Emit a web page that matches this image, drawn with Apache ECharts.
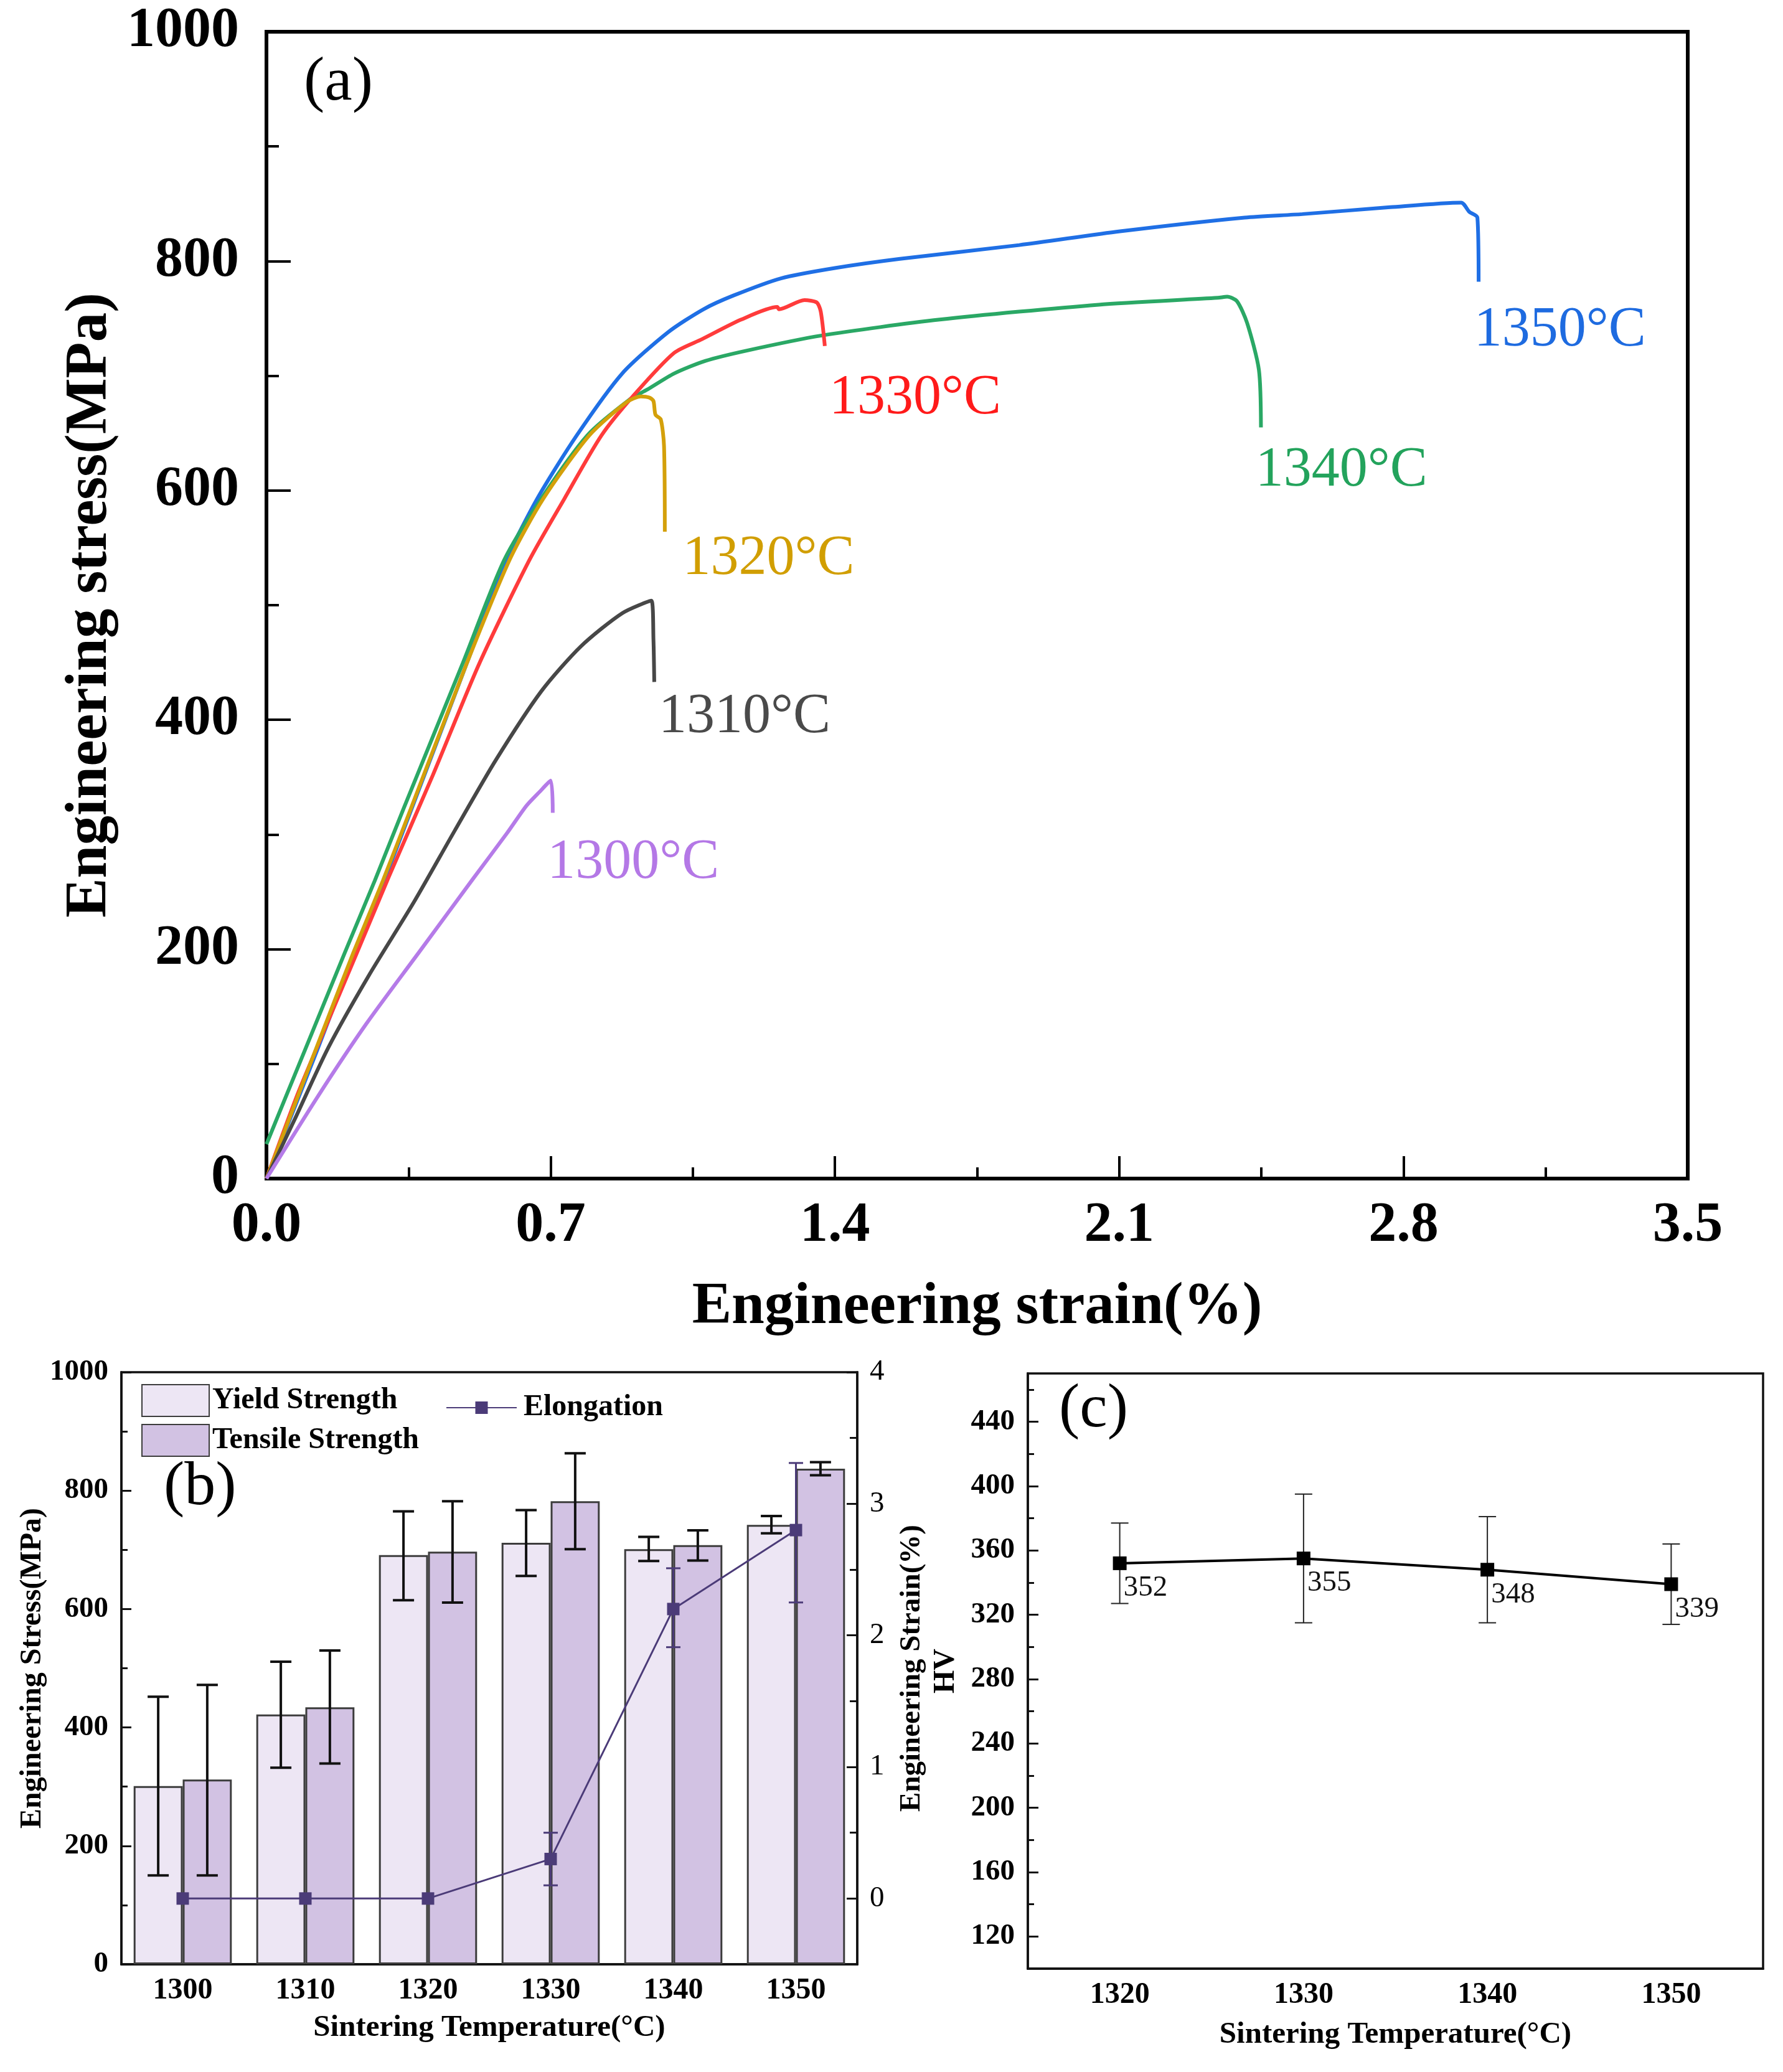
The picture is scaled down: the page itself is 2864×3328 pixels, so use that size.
<!DOCTYPE html>
<html>
<head>
<meta charset="utf-8">
<script src="https://cdn.jsdelivr.net/npm/echarts@6/dist/echarts.min.js"></script>
<style>
  html, body { margin: 0; padding: 0; background: #fff; }
  #chart { width: 2864px; height: 3328px; }
</style>
</head>
<body>
<div id="chart"></div>
<script>
// ---- (a) engineering stress-strain curves: [strain %, stress MPa] ----
const curve1350 = [[0,0],[0.125,112],[0.217,197],[0.290,260],[0.357,322],[0.493,449],[0.590,539],[0.667,593],[0.764,648],[0.876,702],[0.989,738],[1.076,758],[1.150,770],[1.267,785],[1.400,794],[1.560,802],[1.854,814],[2.102,826],[2.409,838],[2.551,841],[2.767,847],[2.942,851],[2.962,843],[2.982,838],[2.985,782]];
const curve1340 = [[0,30],[0.097,114],[0.193,197],[0.267,260],[0.337,322],[0.483,449],[0.585,539],[0.677,593],[0.790,648],[0.897,680],[0.938,688],[1.004,702],[1.081,713],[1.183,722],[1.365,735],[1.658,749],[2.049,762],[2.343,768],[2.366,769],[2.390,765],[2.415,746],[2.444,705],[2.449,655]];
const curve1330 = [[0,0],[0.076,73],[0.149,135],[0.223,197],[0.300,262],[0.410,352],[0.524,449],[0.647,539],[0.734,593],[0.825,648],[0.907,684],[1.004,720],[1.073,732],[1.169,749],[1.258,760],[1.262,758],[1.325,766],[1.355,764],[1.365,756],[1.375,726]];
const curve1320 = [[0,0],[0.123,114],[0.214,197],[0.287,260],[0.355,322],[0.493,449],[0.598,539],[0.682,593],[0.795,648],[0.887,677],[0.922,682],[0.943,681],[0.953,678],[0.958,666],[0.971,662],[0.979,639],[0.981,564]];
const curve1310 = [[0,0],[0.070,52],[0.152,114],[0.252,177],[0.363,241],[0.463,303],[0.565,365],[0.677,425],[0.774,464],[0.876,493],[0.948,504],[0.953,470],[0.955,433]];
const curve1300 = [[0,0],[0.129,73],[0.246,135],[0.375,197],[0.510,262],[0.592,301],[0.640,325],[0.672,337],[0.700,347],[0.705,319]];
const curveNames = ['1350°C', '1340°C', '1330°C', '1320°C', '1310°C', '1300°C'];
// where each curve's text label sits (left edge, vertical middle), in data units
const labelAnchors = [[2.973,739],[2.435,617],[1.385,680],[1.024,540],[0.965,402],[0.691,275]];

// ---- (b) strength and elongation vs sintering temperature ----
const temps = ['1300', '1310', '1320', '1330', '1340', '1350'];
const yieldStrength = [301, 422, 691, 712, 701, 742];
const yieldErr = [[150,452],[332,511],[615,765],[656,767],[681,722],[728,757]];
const tensileStrength = [312, 434, 697, 782, 708, 837];
const tensileErr = [[150,472],[339,530],[611,782],[701,863],[682,733],[826,848]];
const elongation = [0, 0, 0, 0.30, 2.20, 2.80];
const elongationErr = [null, null, null, [0.10,0.50],[1.91,2.51],[2.25,3.31]];

// ---- (c) hardness ----
const hvTemps = ['1320', '1330', '1340', '1350'];
const hardness = [352, 355, 348, 339];
const hardnessErr = [[327,377],[315,395],[315,381],[314,364]];

const SERIF = 'Liberation Serif';
const curveColors = ['#1f6fe5', '#2aa865', '#ff3b3b', '#d4a00a', '#474747', '#b57be8'];
const labelColors = ['#1e6be0', '#23a35c', '#ff1a1a', '#d19e00', '#4a4a4a', '#b478e6'];
const curves = [curve1350, curve1340, curve1330, curve1320, curve1310, curve1300];

function errRows(err) {
  const rows = [];
  err.forEach((e, i) => { if (e) rows.push([i, e[0], e[1]]); });
  return rows;
}

// error bars drawn at a fraction of the category band away from its centre
function errorBars(xi, yi, rows, shift, cap, color, width) {
  return {
    type: 'custom',
    xAxisIndex: xi,
    yAxisIndex: yi,
    z: 6,
    silent: true,
    data: rows,
    encode: { x: 0, y: [1, 2] },
    renderItem: function (params, api) {
      const band = api.size([1, 0])[0];
      const lo = api.coord([api.value(0), api.value(1)]);
      const hi = api.coord([api.value(0), api.value(2)]);
      const x = lo[0] + shift * band;
      const st = { stroke: color, lineWidth: width };
      return {
        type: 'group',
        children: [
          { type: 'line', shape: { x1: x, y1: lo[1], x2: x, y2: hi[1] }, style: st },
          { type: 'line', shape: { x1: x - cap / 2, y1: lo[1], x2: x + cap / 2, y2: lo[1] }, style: st },
          { type: 'line', shape: { x1: x - cap / 2, y1: hi[1], x2: x + cap / 2, y2: hi[1] }, style: st }
        ]
      };
    }
  };
}

const plainNum = v => String(v);

const curveSeries = curves.map((c, i) => ({
  name: curveNames[i],
  type: 'line',
  xAxisIndex: 0,
  yAxisIndex: 0,
  data: c,
  symbol: 'none',
  smooth: 0.25,
  lineStyle: { color: curveColors[i], width: 6 },
  itemStyle: { color: curveColors[i] },
  z: 3,
  markPoint: {
    silent: true,
    symbol: 'rect',
    symbolSize: 1,
    itemStyle: { color: 'rgba(0,0,0,0)' },
    label: {
      show: true, position: 'right', distance: 0,
      formatter: curveNames[i], color: labelColors[i],
      fontFamily: SERIF, fontSize: 90
    },
    data: [{ coord: labelAnchors[i] }]
  }
}));

const chart = echarts.init(document.getElementById('chart'), null, { renderer: 'canvas' });

chart.setOption({
  animation: false,
  backgroundColor: '#fff',
  textStyle: { fontFamily: SERIF, color: '#000' },
  grid: [
    { left: 428, top: 51, width: 2283, height: 1842, show: true, borderColor: '#000', borderWidth: 6, backgroundColor: 'transparent' },
    { left: 195, top: 2204, width: 1182, height: 951, show: true, borderColor: '#111', borderWidth: 3.5, backgroundColor: 'transparent' },
    { left: 1651, top: 2206, width: 1181, height: 956, show: true, borderColor: '#111', borderWidth: 3.5, backgroundColor: 'transparent' }
  ],
  legend: [
    {
      data: ['Yield Strength', 'Tensile Strength'],
      orient: 'vertical', left: 222, top: 2218,
      itemWidth: 108, itemHeight: 51, itemGap: 11,
      icon: 'rect', selectedMode: false,
      textStyle: { fontFamily: SERIF, fontWeight: 'bold', fontSize: 48, color: '#000' }
    },
    {
      data: ['Elongation'],
      left: 711, top: 2232,
      itemWidth: 113, itemHeight: 25, selectedMode: false,
      textStyle: { fontFamily: SERIF, fontWeight: 'bold', fontSize: 48, color: '#000', padding: [0, 0, 0, 6] }
    }
  ],
  xAxis: [
    {
      gridIndex: 0, type: 'value', min: 0, max: 3.5, interval: 0.7,
      axisLine: { lineStyle: { color: '#000', width: 6 } },
      axisTick: { inside: true, length: 36, lineStyle: { width: 4, color: '#000' } },
      minorTick: { show: true, splitNumber: 2, length: 18, lineStyle: { width: 4, color: '#000' } },
      splitLine: { show: false },
      axisLabel: { formatter: v => v.toFixed(1), fontFamily: SERIF, fontWeight: 'bold', fontSize: 90, color: '#000', margin: 32 },
      name: 'Engineering strain(%)', nameLocation: 'middle', nameGap: 160,
      nameTextStyle: { fontFamily: SERIF, fontWeight: 'bold', fontSize: 95, color: '#000' }
    },
    {
      gridIndex: 1, type: 'category', data: temps,
      axisLine: { lineStyle: { color: '#111', width: 3.5 } },
      axisTick: { show: false },
      axisLabel: { fontFamily: SERIF, fontWeight: 'bold', fontSize: 48, color: '#000', margin: 19 },
      name: 'Sintering Temperature(°C)', nameLocation: 'middle', nameGap: 78,
      nameTextStyle: { fontFamily: SERIF, fontWeight: 'bold', fontSize: 49, color: '#000' }
    },
    {
      gridIndex: 2, type: 'category', data: hvTemps,
      axisLine: { lineStyle: { color: '#111', width: 3.5 } },
      axisTick: { inside: true, alignWithLabel: true, length: 19, lineStyle: { width: 3, color: '#111' } },
      axisLabel: { fontFamily: SERIF, fontWeight: 'bold', fontSize: 48, color: '#000', margin: 19 },
      name: 'Sintering Temperature(°C)', nameLocation: 'middle', nameGap: 82,
      nameTextStyle: { fontFamily: SERIF, fontWeight: 'bold', fontSize: 49, color: '#000' }
    }
  ],
  yAxis: [
    {
      gridIndex: 0, type: 'value', min: 0, max: 1000, interval: 200,
      axisLine: { show: true, lineStyle: { color: '#000', width: 6 } },
      axisTick: { show: true, inside: true, length: 39, lineStyle: { width: 4, color: '#000' } },
      minorTick: { show: true, splitNumber: 2, length: 20, lineStyle: { width: 4, color: '#000' } },
      splitLine: { show: false },
      axisLabel: { formatter: plainNum, fontFamily: SERIF, fontWeight: 'bold', fontSize: 90, color: '#000', margin: 44 },
      name: 'Engineering stress(MPa)', nameLocation: 'middle', nameGap: 178, nameRotate: 90,
      nameTextStyle: { fontFamily: SERIF, fontWeight: 'bold', fontSize: 95, color: '#000' }
    },
    {
      gridIndex: 1, type: 'value', min: 0, max: 1000, interval: 200, position: 'left',
      axisLine: { show: true, lineStyle: { color: '#111', width: 3.5 } },
      axisTick: { show: true, inside: true, length: 16, lineStyle: { width: 3, color: '#111' } },
      minorTick: { show: true, splitNumber: 2, length: 10, lineStyle: { width: 3, color: '#111' } },
      splitLine: { show: false },
      axisLabel: { formatter: plainNum, fontFamily: SERIF, fontWeight: 'bold', fontSize: 47, color: '#000', margin: 21 },
      name: 'Engineering Stress(MPa)', nameLocation: 'middle', nameGap: 115, nameRotate: 90,
      nameTextStyle: { fontFamily: SERIF, fontWeight: 'bold', fontSize: 48, color: '#000' }
    },
    {
      gridIndex: 1, type: 'value', min: -0.5, max: 4, position: 'right',
      axisLine: { show: true, lineStyle: { color: '#111', width: 3.5 } },
      axisTick: { show: true, inside: true, length: 17, customValues: [0, 1, 2, 3, 4], lineStyle: { width: 3, color: '#111' } },
      splitLine: { show: false },
      axisLabel: { customValues: [0, 1, 2, 3, 4], fontFamily: SERIF, fontSize: 47, color: '#000', margin: 20 },
      name: 'Engineering Strain(%)', nameLocation: 'middle', nameGap: 64, nameRotate: 90,
      nameTextStyle: { fontFamily: SERIF, fontWeight: 'bold', fontSize: 47, color: '#000' }
    },
    {
      gridIndex: 1, type: 'value', min: -0.5, max: 4, position: 'right',
      axisLine: { show: false },
      axisTick: { show: true, inside: true, length: 12, customValues: [0.5, 1.5, 2.5, 3.5], lineStyle: { width: 3, color: '#111' } },
      axisLabel: { show: false },
      splitLine: { show: false }
    },
    {
      gridIndex: 2, type: 'value', min: 100, max: 470, position: 'left',
      axisLine: { show: true, lineStyle: { color: '#111', width: 3.5 } },
      axisTick: { show: true, inside: true, length: 17, customValues: [120, 160, 200, 240, 280, 320, 360, 400, 440], lineStyle: { width: 3, color: '#111' } },
      splitLine: { show: false },
      axisLabel: { customValues: [120, 160, 200, 240, 280, 320, 360, 400, 440], fontFamily: SERIF, fontWeight: 'bold', fontSize: 47, color: '#000', margin: 21 },
      name: 'HV', nameLocation: 'middle', nameGap: 107, nameRotate: 90,
      nameTextStyle: { fontFamily: SERIF, fontWeight: 'bold', fontSize: 48, color: '#000' }
    },
    {
      gridIndex: 2, type: 'value', min: 100, max: 470, position: 'left',
      axisLine: { show: false },
      axisTick: { show: true, inside: true, length: 10, customValues: [140, 180, 220, 260, 300, 340, 380, 420, 460], lineStyle: { width: 3, color: '#111' } },
      axisLabel: { show: false },
      splitLine: { show: false }
    }
  ],
  graphic: [
    { type: 'text', left: 488, top: 84, style: { text: '(a)', font: '100px "Liberation Serif"', fill: '#000' } },
    { type: 'text', left: 263, top: 2340, style: { text: '(b)', font: '100px "Liberation Serif"', fill: '#000' } },
    { type: 'text', left: 1701, top: 2215, style: { text: '(c)', font: '100px "Liberation Serif"', fill: '#000' } }
  ],
  series: curveSeries.concat([
    {
      name: 'Yield Strength', type: 'bar', xAxisIndex: 1, yAxisIndex: 1,
      data: yieldStrength, barWidth: '40%', barGap: '0%',
      itemStyle: { color: '#ede6f4', borderColor: '#3c3c3c', borderWidth: 3 }, z: 2
    },
    {
      name: 'Tensile Strength', type: 'bar', xAxisIndex: 1, yAxisIndex: 1,
      data: tensileStrength, barWidth: '40%', barGap: '0%',
      itemStyle: { color: '#d2c2e3', borderColor: '#3c3c3c', borderWidth: 3 }, z: 2
    },
    errorBars(1, 1, errRows(yieldErr), -0.2, 34, '#111', 4),
    errorBars(1, 1, errRows(tensileErr), 0.2, 34, '#111', 4),
    {
      name: 'Elongation', type: 'line', xAxisIndex: 1, yAxisIndex: 2,
      data: elongation, symbol: 'rect', symbolSize: 20, showSymbol: true,
      lineStyle: { color: '#4b3b78', width: 3 },
      itemStyle: { color: '#4b3b78' }, z: 8
    },
    errorBars(1, 2, errRows(elongationErr), 0, 23, '#4b3b78', 3),
    {
      name: 'HV', type: 'line', xAxisIndex: 2, yAxisIndex: 4,
      data: hardness, symbol: 'rect', symbolSize: 22,
      lineStyle: { color: '#000', width: 4 },
      itemStyle: { color: '#000' }, z: 8,
      label: {
        show: true, position: 'right', offset: [-10, 40],
        fontFamily: SERIF, fontSize: 47, color: '#111'
      }
    },
    errorBars(2, 4, errRows(hardnessErr), 0, 28, '#222', 2)
  ])
});
</script>
</body>
</html>
